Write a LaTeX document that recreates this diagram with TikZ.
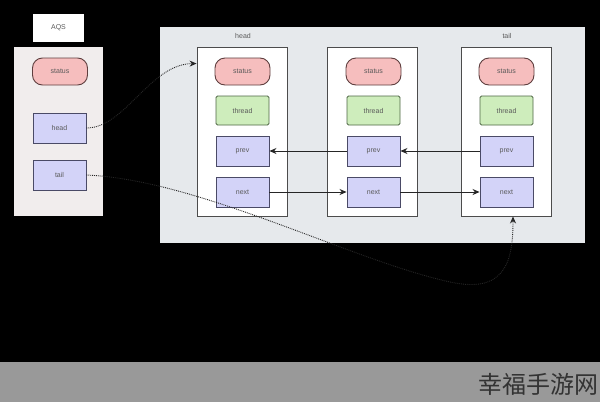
\documentclass[tikz,border=0pt]{standalone}
\usepackage{fontspec}
\setmainfont{Liberation Sans}
\newfontfamily\cjk{Noto Sans CJK SC}
\usepackage{tikz}
\usetikzlibrary{calc}
\usetikzlibrary{arrows.meta}
\usepackage{xcolor}
\definecolor{redfill}{HTML}{F6BEBE}
\definecolor{redline}{HTML}{5E3E3E}
\definecolor{greenfill}{HTML}{CEEDBC}
\definecolor{greenline}{HTML}{4E6644}
\definecolor{bluefill}{HTML}{D3D3F8}
\definecolor{blueline}{HTML}{4A4A66}
\definecolor{aqsfill}{HTML}{F1EDED}
\definecolor{listfill}{HTML}{E6E9EC}
\definecolor{labeltext}{HTML}{5A5A5A}
\definecolor{curveline}{HTML}{262626}
\tikzstyle{lbl}=[font=\fontsize{7}{8}\selectfont, text=labeltext]
\tikzstyle{statusbox}=[lbl, draw=redline, fill=redfill, line width=0.9pt, rounded corners=10pt, minimum width=55pt, minimum height=27pt]
\tikzstyle{threadbox}=[lbl, draw=greenline, fill=greenfill, line width=0.9pt, rounded corners=1.5pt, minimum width=53pt, minimum height=29pt]
\tikzstyle{fieldbox}=[lbl, draw=blueline, fill=bluefill, line width=0.9pt, minimum width=53pt, minimum height=30pt]
\tikzstyle{nodebox}=[draw=black!70, fill=white, line width=0.9pt, minimum width=90pt, minimum height=169pt]
\tikzstyle{link}=[-{Stealth[length=7pt,width=6pt]}, line width=0.8pt, draw=black!85]
\tikzstyle{ref}=[-{Stealth[length=7pt,width=6pt]}, densely dotted, line width=0.9pt, draw=curveline]

\begin{document}
\begin{tikzpicture}[x=1pt,y=-1pt]
\useasboundingbox (0,0) rectangle (600,402);
\fill[black] (0,0) rectangle (600,362);
\fill[black!40] (0,362) rectangle (600,402);
\node[font=\cjk\fontsize{24}{24}\selectfont, text=black!80, anchor=east, inner sep=0pt] (mark) at (599,384) {幸福手游网};

% AQS
\fill[aqsfill] (14,47) rectangle (103,216);
\node[lbl, fill=white, minimum width=51pt, minimum height=28pt] (aqs) at (58.5,28) {AQS};
\node[statusbox] (astatus) at (60,71.5) {status};
\node[fieldbox] (ahead) at (59.5,128) {head};
\node[fieldbox] (atail) at (59.5,175) {tail};

% queue
\fill[listfill] (160,27) rectangle (585,243);
\foreach \i/\x/\y in {1/242/242.5,2/372/373.5,3/506/506.5} {
	\node[nodebox] (q\i) at (\x,131.5) {};
	\node[statusbox] (s\i) at (\y,71.5) {status};
	\node[threadbox] (t\i) at (\y,110.5) {thread};
	\node[fieldbox] (p\i) at (\y,151) {prev};
	\node[fieldbox] (n\i) at (\y,192) {next};
}
\node[lbl] (headlbl) at (243,36) {head};
\node[lbl] (taillbl) at (507,36) {tail};

\draw[link] (n1) -- (n2);
\draw[link] (n2) -- (n3);
\draw[link] (p3) -- (p2);
\draw[link] (p2) -- (p1);

\coordinate (headend) at ($(q1.north west)+(0,17)$);
\coordinate (tailend) at ($(q3.south)+(7,0)$);
\draw[ref] (ahead.east) .. controls (125,128) and (150,64) .. (headend);
\draw[ref] (atail.east) .. controls (200,180) and (350,260) .. (450,282) .. controls (505,294) and (513,262) .. (tailend);
\end{tikzpicture}
\end{document}
